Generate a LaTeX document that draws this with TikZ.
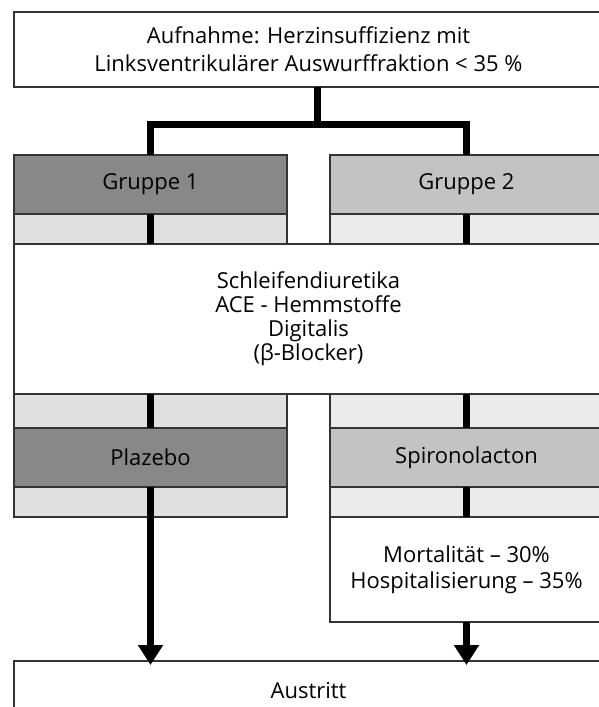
\documentclass[tikz,border=0pt]{standalone}
\usepackage{fontspec}
\setmainfont{Open Sans}
\usetikzlibrary{arrows.meta}
\definecolor{dkgray}{HTML}{888888}
\definecolor{mdgray}{HTML}{C3C3C3}
\definecolor{ltA}{HTML}{E0E0E0}
\definecolor{ltB}{HTML}{EBEBEB}
\definecolor{edgec}{HTML}{333333}
\begin{document}
\begin{tikzpicture}[x=1pt,y=-1pt,
  box/.style={draw=edgec, line width=1.6pt, rectangle, inner sep=0pt, outer sep=0pt,
    align=center, font=\fontsize{22}{24}\selectfont},
  colw/.style={box, minimum width=273pt},
  fullw/.style={box, minimum width=589pt},
  conn/.style={line width=7pt, draw=black},
  arr/.style={conn, -{Triangle[width=24pt,length=20pt]}}
]
\fill[white] (0,0) rectangle (599,707);
\useasboundingbox (0,0) rectangle (599,707);

% boxes
\node[fullw, fill=white, minimum height=75pt, font=\fontsize{22}{28}\selectfont] (top) at (308.5,49.5)
  {Aufnahme: Herzinsuffizienz mit\\Linksventrikulärer Auswurffraktion < 35 \%};

\node[colw, fill=dkgray, minimum height=59pt] (g1) at (150.5,184.5) {Gruppe 1};
\node[colw, fill=mdgray, minimum height=59pt] (g2) at (466.5,184.5) {Gruppe 2};

\node[colw, fill=ltA, minimum height=30pt] (s1a) at (150.5,229) {};
\node[colw, fill=ltB, minimum height=30pt] (s2a) at (466.5,229) {};

\node[fullw, fill=white, minimum height=150pt] (mid) at (308.5,319)
  {Schleifendiuretika\\ACE - Hemmstoffe\\Digitalis\\(β-Blocker)};

\node[colw, fill=ltA, minimum height=34pt] (s1b) at (150.5,411) {};
\node[colw, fill=ltB, minimum height=34pt] (s2b) at (466.5,411) {};

\node[colw, fill=dkgray, minimum height=59pt] (pl) at (150.5,457.5) {Plazebo};
\node[colw, fill=mdgray, minimum height=59pt] (sp) at (466.5,457.5) {Spironolacton};

\node[colw, fill=ltA, minimum height=30pt] (s1c) at (150.5,502) {};
\node[colw, fill=ltB, minimum height=30pt] (s2c) at (466.5,502) {};

\node[colw, fill=white, minimum height=105pt, font=\fontsize{22}{26}\selectfont] (res) at (466.5,569.5)
  {Mortalität – 30\%\\Hospitalisierung – 35\%};

\node[fullw, fill=white, minimum height=60pt] (aus) at (308.5,691) {Austritt};

% connectors
\coordinate (stem) at (317,124);
\draw[conn] (top.south -| stem) -- (stem);
\draw[conn, line join=miter] (g1.north) -- (g1.north |- stem) -- (g2.north |- stem) -- (g2.north);
\draw[conn] (s1a.north) -- (s1a.south);
\draw[conn] (s2a.north) -- (s2a.south);
\draw[conn] (s1b.north) -- (s1b.south);
\draw[conn] (s2b.north) -- (s2b.south);
\draw[conn] (s2c.north) -- (s2c.south);
\draw[arr] (pl.south) -- ([yshift=-4pt]aus.north -| pl.south);
\draw[arr] (res.south) -- ([yshift=-4pt]aus.north -| res.south);
\end{tikzpicture}
\end{document}
